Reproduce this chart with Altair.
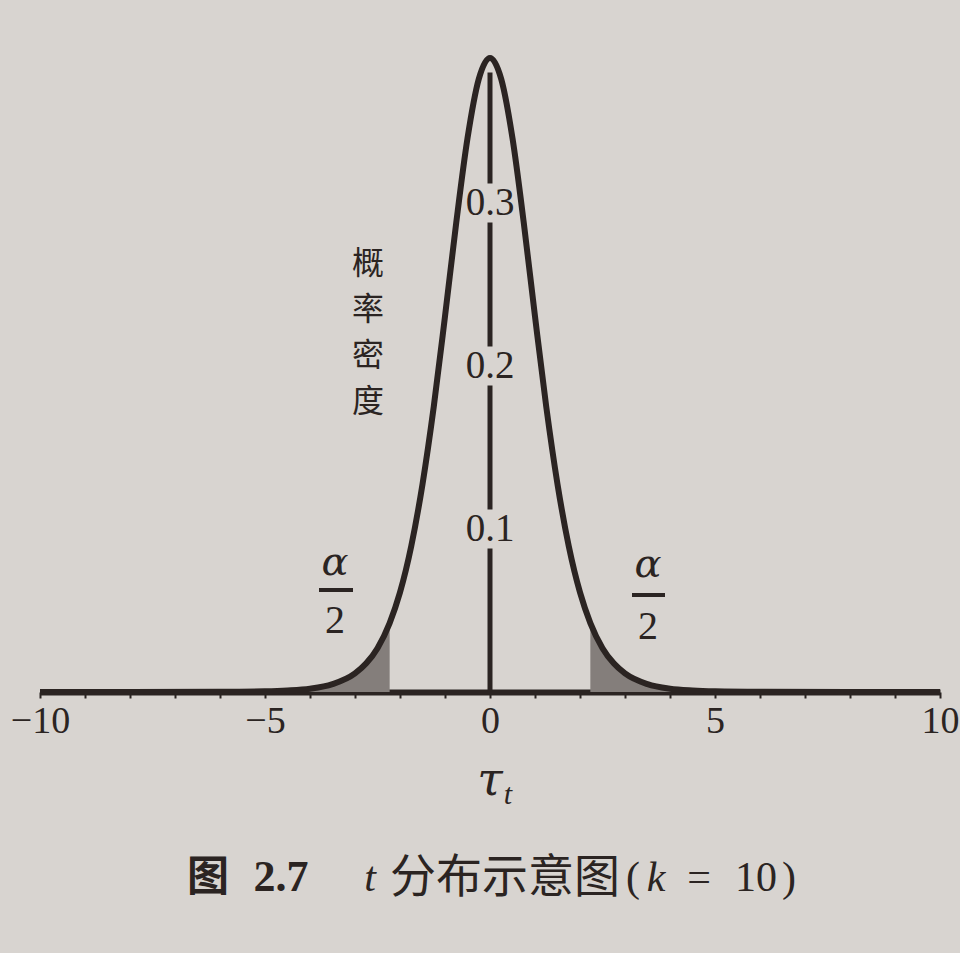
import altair as alt
import pandas as pd

# ---- data ----
t_values = [-10, -8, -6, -5, -4.5, -4, -3.5, -3, -2.75, -2.5, -2.23, -2, -1.75, -1.5,
            -1.25, -1, -0.75, -0.5, -0.25, 0, 0.25, 0.5, 0.75, 1, 1.25, 1.5, 1.75,
            2, 2.23, 2.5, 2.75, 3, 3.5, 4, 4.5, 5, 6, 8, 10]
density = [0.0, 0.0, 0.0001, 0.0004, 0.0009, 0.0020, 0.0048, 0.0114, 0.0176, 0.0269,
           0.0423, 0.0611, 0.0895, 0.1275, 0.175, 0.2304, 0.288, 0.3397, 0.376, 0.389,
           0.376, 0.3397, 0.288, 0.2304, 0.175, 0.1275, 0.0895, 0.0611, 0.0423, 0.0269,
           0.0176, 0.0114, 0.0048, 0.0020, 0.0009, 0.0004, 0.0001, 0.0, 0.0]
critical = 2.23          # t_{alpha/2}, edge of the shaded tails
tail_end = 5             # where shading fades into the axis
x_ticks = list(range(-10, 11))
y_tick_values = [0.1, 0.2, 0.3]
y_tick_labels = ["0.1", "0.2", "0.3"]
y_axis_top = 0.38
y_title_chars = ["概", "率", "密", "度"]

INK = "#2b2422"
BG = "#d8d4d0"
SHADE = "#847e7b"

curve = pd.DataFrame({"t": t_values, "d": density})
curve["side"] = [
    "left" if (-tail_end <= v <= -critical) else ("right" if critical <= v <= tail_end else "none")
    for v in t_values
]
yticks = pd.DataFrame({"t": [0] * 3, "d": y_tick_values, "lab": y_tick_labels})
vaxis = pd.DataFrame({"t": [0], "d": [0.0], "d2": [y_axis_top]})

xs = alt.Scale(domain=[-10, 10], nice=False, zero=False)
ys = alt.Scale(domain=[0, 0.4], nice=False)

x_axis = alt.Axis(values=x_ticks,
                  labelExpr="datum.value % 5 === 0 ? datum.label : ''",
                  labelFont="Liberation Serif", labelFontSize=38, labelColor=INK,
                  tickColor=INK, tickSize=6, tickWidth=2,
                  domainColor=INK, domainWidth=6, labelPadding=4,
                  grid=False, title=None, labelFlush=False)

X = alt.X("t:Q", scale=xs, axis=x_axis)
Xn = alt.X("t:Q", scale=xs, title=None)
Y = alt.Y("d:Q", scale=ys, axis=None)

base = alt.Chart(curve)

shade = base.mark_area(color=SHADE, opacity=1, interpolate="monotone").encode(
    x=X,
    y=alt.Y("d:Q", scale=ys, axis=None, stack=None),
    detail="side:N",
).transform_filter("datum.side !== 'none'")

line = base.mark_line(color=INK, strokeWidth=6, interpolate="monotone").encode(x=Xn, y=Y)

vline = alt.Chart(vaxis).mark_rule(color=INK, strokeWidth=5).encode(
    x=Xn, y=Y, y2="d2:Q")

gaps = alt.Chart(yticks).mark_point(shape="square", filled=True, size=1520,
                                    color=BG, opacity=1).encode(x=Xn, y=Y)

ylabs = alt.Chart(yticks).mark_text(font="Liberation Serif", fontSize=39, color=INK,
                                    baseline="middle", align="center").encode(
    x=Xn, y=Y, text="lab:N")

PADL, PADT = 40, 40


def txt(s, cx, cy, size, font="Liberation Serif", weight="normal", style="normal"):
    return alt.Chart(pd.DataFrame({"s": [s]})).mark_text(
        fontSize=size, font=font, fontWeight=weight, fontStyle=style,
        color=INK, align="center", baseline="middle").encode(
        x=alt.value(cx - PADL), y=alt.value(cy - PADT), text="s:N")


def bar(x1, x2, y):
    return alt.Chart(pd.DataFrame({"k": [0]})).mark_rule(color=INK, strokeWidth=4).encode(
        x=alt.value(x1 - PADL), x2=alt.value(x2 - PADL), y=alt.value(y - PADT))


annots = [txt(ch, 368, 264 + 46 * i, 32, font="Noto Sans CJK SC")
          for i, ch in enumerate(y_title_chars)]
annots += [
    txt("α", 335, 563, 40, font="DejaVu Serif", style="italic"),
    bar(319, 353, 590),
    txt("2", 335, 621, 40),
    txt("α", 648, 565, 40, font="DejaVu Serif", style="italic"),
    bar(632, 665, 595),
    txt("2", 648, 627, 40),
    txt("τ", 490, 781, 46, font="DejaVu Serif", style="italic"),
    txt("t", 508, 795, 30, style="italic"),
    txt("图", 208, 878, 42, font="Noto Sans CJK SC", weight="bold"),
    txt("2.7", 281, 878, 44, weight="bold"),
    txt("t", 370, 878, 42, style="italic"),
    txt("分布示意图", 505, 878, 46, font="Noto Sans CJK SC"),
    txt("(", 633, 878, 42),
    txt("k", 656, 878, 42, style="italic"),
    txt("=", 699, 878, 42),
    txt("10", 756, 878, 42),
    txt(")", 789, 878, 42),
]

chart = alt.layer(shade, line, vline, gaps, ylabs, *annots).properties(
    width=900, height=652,
    autosize=alt.AutoSizeParams(type="none"),
    padding={"left": PADL, "top": PADT, "right": 20, "bottom": 261},
    background=BG,
).configure_view(stroke=None)

chart.save("out.html", embed_options={"renderer": "svg", "actions": False})
